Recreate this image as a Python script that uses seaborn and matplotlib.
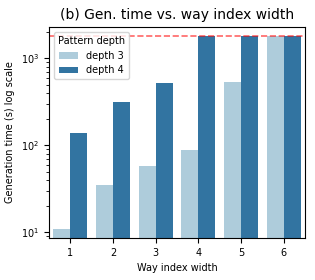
import pandas as pd
import seaborn as sns
import matplotlib.pyplot as plt

# generation time per way index width, timeout capped at 1800 s
way_widths = [1, 2, 3, 4, 5, 6]
depth3_times = [11, 35, 58, 89, 530, 1800]
depth4_times = [138, 312, 520, 1800, 1800, 1800]
timeout = 1800

df = pd.DataFrame({
    'Way index width': way_widths * 2,
    'time': depth3_times + depth4_times,
    'Pattern depth': ['depth 3'] * len(way_widths) + ['depth 4'] * len(way_widths),
})

fig, ax = plt.subplots(figsize=(3.15, 2.8), dpi=100)
sns.barplot(data=df, x='Way index width', y='time', hue='Pattern depth',
            palette='Paired', ax=ax)
ax.set_yscale('log')
ax.set_ylim(8.6, 2300)
ax.axhline(timeout, color='red', linestyle='--', alpha=0.6, linewidth=1.2)

ax.set_title('(b) Gen. time vs. way index width', fontsize=10)
ax.set_xlabel('Way index width', fontsize=7)
ax.set_ylabel('Generation time (s) log scale', fontsize=7)
ax.tick_params(labelsize=7)
ax.legend(title='Pattern depth', fontsize=7, title_fontsize=7, loc='upper left')

fig.subplots_adjust(left=49/315, right=305/315, top=1 - 27/280, bottom=1 - 238/280)
plt.savefig('out.png', dpi=100)
plt.close()
